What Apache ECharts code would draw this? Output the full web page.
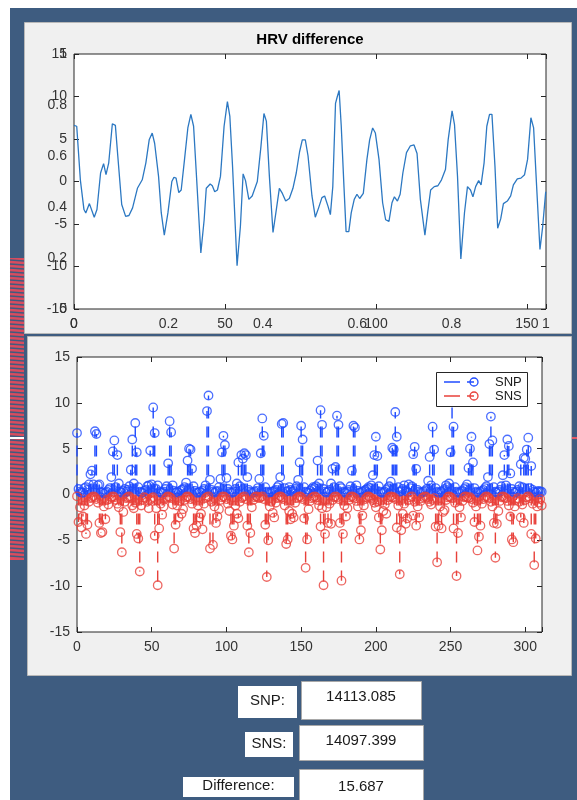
<!DOCTYPE html>
<html>
<head>
<meta charset="utf-8">
<title>HRV difference</title>
<script src="https://cdn.jsdelivr.net/npm/echarts/dist/echarts.min.js"></script>
<style>
  html, body { margin: 0; padding: 0; background: #ffffff; }
  #chart { width: 577px; height: 800px; }
</style>
</head>
<body>
<div id="chart"></div>
<script>
// HRV difference trace, [sample, value] vertices
const hrvDiff = [
  [0,6.6],[0.9,6.5],[2.1,0.2],[3.3,-3.3],[3.9,-3.7],[5.1,-2.6],[5.7,-2.5],[6.7,-4.2],[7.6,-3.3],[8.8,1.0],
  [9.8,2.1],[10.6,0.8],[11.5,2.2],[12.7,6.8],[13.7,6.6],[14.5,3.0],[15.8,-2.7],[17.1,-4.1],[18.2,-4.0],[19.4,-3.1],
  [21.0,-0.8],[22.6,0.2],[23.8,2.2],[24.9,4.9],[25.9,5.7],[26.7,4.5],[28.0,0.6],[28.9,-3.7],[29.9,-6.3],[31.1,-3.7],
  [32.4,0],[33.1,0.5],[33.8,0.4],[34.7,-1.3],[35.5,-1.0],[36.6,2.6],[37.7,6.3],[38.7,7.9],[39.6,6.5],[40.5,1.0],
  [42.0,-8.4],[43.1,-4.5],[43.8,-0.8],[45.1,-0.3],[45.8,-0.5],[46.6,-1.2],[47.5,-1.0],[48.5,0.6],[49.7,6.5],[50.8,9.4],
  [51.6,7.7],[52.5,1.8],[54.0,-9.9],[55.1,-5.3],[56.0,0.9],[56.8,0.1],[57.9,-2.1],[59.0,-1.7],[60.7,0],[61.9,4.1],
  [62.9,8.0],[63.7,7.1],[64.7,0.6],[65.9,-6.0],[67.0,-3.3],[68.0,-0.8],[69.0,-1.4],[70.1,-2.3],[71.3,-2.0],[72.5,-0.8],
  [73.6,1.0],[74.7,3.5],[75.6,4.9],[76.6,4.9],[77.5,3.0],[78.8,-1.7],[79.9,-4.2],[81.0,-3.1],[82.1,-1.9],[83.0,-1.7],
  [84.1,-2.9],[84.9,-3.9],[85.7,-0.6],[86.6,9.2],[87.2,10.0],[87.8,10.7],[88.5,6.5],[89.4,-0.6],[90.1,-5.9],[91.0,-5.9],
  [91.8,-3.7],[92.8,-2.1],[93.7,-1.5],[94.6,-2.0],[95.8,-1.4],[97.0,2.6],[97.9,4.9],[98.9,6.3],[99.8,5.7],[101.0,2.6],
  [102.2,-2.5],[103.2,-4.5],[104.3,-4.7],[105.3,-2.5],[106.1,-1.8],[107.1,-2.3],[108.0,-1.5],[108.9,1.0],[110.1,3.4],[111.4,4.2],
  [112.6,4.3],[113.6,3.3],[114.7,-2.1],[116.2,-6.3],[117.1,-3.7],[118.1,-1.0],[119.3,-0.6],[120.5,-0.5],[121.7,0.2],[123.0,1.4],
  [123.9,4.9],[125.2,8.3],[126.0,6.7],[127.0,0.6],[128.1,-9.1],[129.3,-3.7],[130.3,-0.6],[131.3,-1.0],[132.1,-1.8],[133.0,-0.6],
  [134.0,0.1],[134.8,-0.4],[135.8,2.2],[136.7,6.5],[137.6,7.9],[138.4,7.9],[139.4,1.8],[140.3,-5.5],[141.3,-4.4],[142.2,-2.6],
  [143.5,-2.3],[144.6,-1.7],[145.5,-0.4],[146.8,0.3],[148.0,0.4],[149.2,0.8],[150.2,2.6],[151.3,7.5],[152.2,6.3],[153.2,-0.6],
  [154.3,-8.0],[155.2,-5.3],[156.2,-1.2]
];

// SNP stem values, one per sample index 0..311
const snpValues = [
  6.7, 0.6, 0.3, 0.2, 0.2, 0.7, 0.8, 0.5, 1.1, 2.2,
  2.6, 1.1, 6.9, 6.6, 1.0, 1.1, 0.3, 0.2, 0.1, 0.2,
  0.3, 0.5, 0.7, 1.9, 4.7, 5.9, 0.8, 4.3, 1.2, 0.3,
  0.2, 0.4, 0.6, 0.3, 0.5, 0.9, 2.7, 6.0, 1.2, 7.8,
  4.6, 0.8, 0.3, 0.2, 0.2, 0.4, 0.5, 0.9, 1.0, 4.8,
  1.1, 9.5, 6.7, 0.6, 1.0, 0.3, 0.2, 0.2, 0.3, 0.6,
  0.9, 3.4, 8.0, 6.8, 1.0, 0.4, 0.2, 0.3, 0.2, 0.4,
  0.5, 0.6, 0.8, 1.3, 3.7, 5.0, 4.9, 2.8, 0.9, 0.4,
  0.2, 0.2, 0.3, 0.2, 0.4, 0.6, 1.0, 9.1, 10.8, 1.6,
  0.5, 0.3, 0.2, 0.3, 0.4, 0.8, 1.7, 4.6, 6.4, 5.4,
  1.8, 0.6, 0.3, 0.2, 0.2, 0.3, 0.6, 1.2, 3.5, 0.9,
  4.3, 3.9, 4.5, 4.3, 1.9, 0.5, 0.3, 0.2, 0.2, 0.3,
  0.4, 0.7, 1.7, 4.5, 8.3, 6.4, 0.8, 0.3, 0.2, 0.2,
  0.3, 0.3, 0.4, 0.5, 0.8, 1.0, 1.9, 7.7, 7.8, 0.7,
  0.3, 0.4, 0.8, 0.5, 0.3, 0.4, 0.6, 0.9, 1.6, 3.5,
  7.5, 6.0, 0.8, 0.3, 0.2, 0.2, 0.4, 0.6, 0.8, 0.7,
  0.9, 3.7, 1.2, 9.2, 7.6, 0.6, 0.3, 0.2, 0.3, 0.5,
  1.2, 2.8, 0.8, 3.0, 8.6, 7.6, 0.9, 0.7, 0.3, 0.2,
  0.2, 0.3, 0.5, 0.9, 2.6, 7.5, 7.3, 1.0, 0.4, 0.2,
  0.2, 0.3, 0.4, 0.5, 0.6, 0.8, 0.7, 1.0, 2.1, 4.3,
  6.3, 4.2, 0.9, 0.3, 0.2, 0.2, 0.3, 0.5, 0.7, 0.9,
  1.4, 5.1, 4.9, 9.0, 6.3, 0.8, 0.3, 0.4, 0.6, 1.0,
  0.4, 0.3, 1.1, 0.7, 0.9, 4.4, 5.2, 2.8, 0.5, 0.3,
  0.2, 0.2, 0.3, 0.4, 0.6, 1.5, 4.1, 1.0, 7.4, 4.9,
  0.7, 0.3, 0.2, 0.2, 0.3, 0.4, 0.6, 1.0, 0.8, 1.2,
  4.6, 11.0, 7.4, 0.8, 0.3, 0.2, 0.2, 0.3, 0.4, 0.6,
  0.8, 1.1, 2.9, 5.0, 6.3, 3.5, 0.7, 0.3, 0.2, 0.2,
  0.3, 0.4, 0.5, 0.7, 0.9, 1.9, 5.5, 8.5, 5.9, 0.8,
  0.3, 0.2, 0.3, 0.5, 0.9, 2.1, 4.3, 1.0, 6.0, 5.3,
  2.3, 0.6, 0.3, 0.2, 0.3, 0.5, 0.9, 3.3, 0.8, 4.0,
  3.9, 4.9, 6.2, 0.7, 3.1, 0.5, 0.3, 0.2, 0.3, 0.4,
  0.3, 0.3
];

// SNS stem values, one per sample index 0..311
const snsValues = [
  -0.2, -3.0, -1.4, -3.6, -2.4, -1.2, -4.3, -3.3, -0.8, -0.4,
  -0.3, -0.2, -0.3, -0.5, -0.9, -3.1, -4.2, -4.1, -1.3, -2.7,
  -0.6, -1.1, -0.5, -0.3, -0.2, -0.3, -0.6, -1.0, -1.4, -4.1,
  -6.3, -1.9, -0.8, -0.4, -0.3, -0.2, -0.4, -1.2, -1.5, -0.9,
  -4.3, -4.8, -8.4, -1.2, -0.6, -0.3, -0.4, -0.8, -1.5, -0.6,
  -0.4, -0.3, -4.5, -1.5, -9.9, -3.7, -1.0, -2.2, -1.3, -0.5,
  -0.3, -0.2, -0.3, -0.4, -1.1, -5.9, -3.3, -1.2, -2.5, -0.7,
  -2.1, -1.6, -0.6, -0.3, -0.2, -0.3, -0.5, -1.0, -3.7, -4.2,
  -3.4, -1.2, -2.5, -2.1, -3.8, -1.0, -0.4, -0.3, -0.2, -5.9,
  -0.8, -5.5, -1.3, -3.1, -2.4, -1.6, -0.6, -0.3, -0.2, -0.3,
  -0.5, -1.0, -1.8, -4.5, -4.9, -3.4, -1.2, -2.1, -2.6, -0.8,
  -0.4, -0.3, -0.2, -0.5, -3.4, -6.3, -4.2, -1.4, -0.6, -0.3,
  -0.2, -0.3, -0.4, -0.3, -0.2, -0.5, -3.3, -9.0, -5.0, -1.3,
  -0.8, -2.0, -2.5, -0.9, -0.4, -0.3, -0.2, -0.3, -0.5, -1.2,
  -5.4, -4.9, -1.8, -2.7, -2.1, -2.5, -0.9, -0.4, -0.3, -0.2,
  -0.3, -0.5, -2.6, -8.0, -4.9, -1.6, -0.7, -0.4, -0.3, -0.2,
  -0.3, -0.6, -1.2, -3.5, -1.5, -9.9, -4.3, -1.4, -3.1, -1.0,
  -3.2, -0.6, -0.3, -0.2, -0.3, -0.5, -3.1, -9.4, -4.3, -1.2,
  -2.4, -1.5, -0.6, -0.3, -0.2, -0.3, -0.4, -0.7, -1.3, -4.9,
  -3.9, -2.3, -1.2, -0.5, -0.3, -0.2, -0.3, -0.4, -0.6, -0.9,
  -1.4, -0.8, -2.5, -6.0, -3.9, -1.8, -1.1, -2.1, -0.6, -0.3,
  -0.2, -0.3, -0.3, -0.5, -3.6, -1.2, -8.7, -3.9, -2.1, -1.0,
  -3.2, -2.6, -0.6, -0.3, -0.2, -2.3, -0.8, -3.4, -1.3, -2.5,
  -0.7, -0.4, -0.3, -0.2, -0.3, -0.5, -0.8, -1.1, -0.6, -0.4,
  -3.5, -7.4, -3.4, -1.3, -3.7, -1.9, -1.7, -0.6, -0.3, -0.2,
  -0.3, -0.4, -3.7, -0.9, -8.9, -4.2, -1.4, -2.5, -0.7, -0.3,
  -0.2, -0.3, -0.4, -0.3, -0.5, -0.9, -3.0, -1.3, -6.1, -4.6,
  -3.4, -1.0, -0.5, -0.3, -0.2, -0.3, -0.4, -0.8, -1.3, -3.1,
  -6.9, -3.2, -1.8, -0.7, -0.3, -0.2, -0.3, -0.4, -0.7, -1.2,
  -2.4, -4.9, -5.2, -1.3, -0.6, -0.4, -0.8, -2.5, -1.1, -3.1,
  -0.6, -0.3, -0.2, -0.4, -4.3, -1.0, -7.7, -4.8, -1.3, -0.9,
  -0.5, -1.2
];

// Axis ticks
const hrvXTicks = [0, 50, 100, 150];
const stemXTicks = [0, 50, 100, 150, 200, 250, 300];
const valueYTicks = [-15, -10, -5, 0, 5, 10, 15];
const unitTicks = [0, 0.2, 0.4, 0.6, 0.8, 1];

// Totals shown under the plots
const totals = [
  { label: 'SNP:', value: '14113.085' },
  { label: 'SNS:', value: '14097.399' },
  { label: 'Difference:', value: '15.687' }
];

const FONT = '"Liberation Sans", Arial, Helvetica, sans-serif';
const AXIS_COLOR = '#262626';
const LABEL_COLOR = '#333333';
const SNP_COLOR = '#1f4bff';
const SNS_COLOR = '#e8403a';

const snpData = snpValues.map((v, i) => [i, v]);
const snsData = snsValues.map((v, i) => [i, v]);

function tickLabel(list) {
  return function (v) {
    const r = Math.round(v * 1000) / 1000;
    return list.indexOf(r) >= 0 ? String(r) : '';
  };
}

function mainAxis(kind, gridIndex, min, max, interval, position, ticks) {
  return {
    type: 'value', gridIndex, min, max, interval, position,
    axisLine: { show: false, onZero: false },
    axisTick: { show: true, inside: true, length: 5, lineStyle: { color: AXIS_COLOR, width: 1 } },
    axisLabel: ticks ? {
      show: true, color: LABEL_COLOR, fontSize: 14, fontFamily: FONT,
      margin: kind === 'x' ? 8 : 7, formatter: tickLabel(ticks)
    } : { show: false },
    splitLine: { show: false }
  };
}

function overlayAxis(kind, gridIndex, position) {
  return {
    type: 'value', gridIndex, min: 0, max: 1, interval: 0.2, position,
    axisLine: { show: false, onZero: false }, axisTick: { show: false }, splitLine: { show: false },
    axisLabel: {
      show: true, color: LABEL_COLOR, fontSize: 14, fontFamily: FONT,
      margin: kind === 'x' ? 8 : 7, formatter: tickLabel(unitTicks)
    }
  };
}

function stemRenderer(color) {
  return function (params, api) {
    const x = api.value(0);
    const v = api.value(1);
    const a = api.coord([x, 0]);
    const b = api.coord([x, v]);
    return {
      type: 'line',
      shape: { x1: a[0], y1: a[1], x2: b[0], y2: b[1] },
      style: { stroke: color, lineWidth: 1.4, lineDash: [11, 8] },
      silent: true
    };
  };
}

// Striped strip along the left edge of the window
const stripes = [];
for (let y = 260; y < 560; y += 4) {
  stripes.push({
    type: 'line', z: -90,
    shape: { x1: 10, y1: y, x2: 24, y2: y + 1 },
    style: { stroke: '#3e5c80', lineWidth: 1.4 }
  });
}

const totalBoxes = [];
const labelBoxes = [
  { x: 238, y: 686, w: 59, h: 32 },
  { x: 245, y: 732, w: 48, h: 25 },
  { x: 183, y: 777, w: 111, h: 20 }
];
const valueBoxes = [
  { x: 301, y: 681, w: 120, h: 38 },
  { x: 299, y: 725, w: 124, h: 35 },
  { x: 299, y: 769, w: 124, h: 34 }
];
const textY = [[701, 697], [744, 741], [786, 787]];
totals.forEach((t, i) => {
  const lb = labelBoxes[i], vb = valueBoxes[i];
  totalBoxes.push(
    { type: 'rect', z: 50, shape: { x: lb.x, y: lb.y, width: lb.w, height: lb.h }, style: { fill: '#ffffff' } },
    { type: 'text', z: 51, x: lb.x + lb.w / 2, y: textY[i][0],
      style: { text: t.label, fill: '#1a1a1a', font: '15px ' + FONT, textAlign: 'center', textVerticalAlign: 'middle' } },
    { type: 'rect', z: 50, shape: { x: vb.x + 0.5, y: vb.y + 0.5, width: vb.w, height: vb.h },
      style: { fill: '#ffffff', stroke: '#a8a8a8', lineWidth: 1 } },
    { type: 'text', z: 51, x: vb.x + vb.w / 2, y: textY[i][1],
      style: { text: t.value, fill: '#1a1a1a', font: '15px ' + FONT, textAlign: 'center', textVerticalAlign: 'middle' } }
  );
});

function legendRow(y, color, name) {
  return [
    { type: 'line', z: 61, shape: { x1: 444, y1: y, x2: 460, y2: y }, style: { stroke: color, lineWidth: 1.5 } },
    { type: 'line', z: 61, shape: { x1: 467, y1: y, x2: 474, y2: y }, style: { stroke: color, lineWidth: 1.5 } },
    { type: 'circle', z: 61, shape: { cx: 474, cy: y, r: 4 }, style: { fill: 'transparent', stroke: color, lineWidth: 1.3 } },
    { type: 'text', z: 61, x: 495, y: y, style: { text: name, fill: '#1a1a1a', font: '13px ' + FONT, textVerticalAlign: 'middle' } }
  ];
}

const chart = echarts.init(document.getElementById('chart'), null, { renderer: 'canvas' });

chart.setOption({
  backgroundColor: '#ffffff',
  animation: false,
  graphic: [
    { type: 'rect', z: -100, shape: { x: 10, y: 8, width: 567, height: 792 }, style: { fill: '#3e5c80' } },
    { type: 'rect', z: -95, shape: { x: 10, y: 258, width: 14, height: 302 }, style: { fill: '#d84c5e' } },
    ...stripes,
    { type: 'rect', z: -80, shape: { x: 0, y: 437, width: 24, height: 2 }, style: { fill: '#ffffff' } },
    { type: 'rect', z: -80, shape: { x: 572, y: 437, width: 5, height: 2 }, style: { fill: '#e05a66' } },
    { type: 'rect', z: -70, shape: { x: 24.5, y: 22.5, width: 547, height: 311 },
      style: { fill: '#f0f0f0', stroke: '#b8b8b8', lineWidth: 1 } },
    { type: 'rect', z: -70, shape: { x: 27.5, y: 336.5, width: 544, height: 339 },
      style: { fill: '#f0f0f0', stroke: '#b8b8b8', lineWidth: 1 } },
    { type: 'text', z: 40, x: 310, y: 40,
      style: { text: 'HRV difference', fill: '#000000', font: 'bold 15px ' + FONT, textAlign: 'center', textVerticalAlign: 'middle' } },
    { type: 'rect', z: 60, shape: { x: 436.5, y: 372.5, width: 91, height: 34 },
      style: { fill: '#ffffff', stroke: '#262626', lineWidth: 1 } },
    ...legendRow(382, SNP_COLOR, 'SNP'),
    ...legendRow(396, SNS_COLOR, 'SNS'),
    ...totalBoxes
  ],
  grid: [
    { left: 74, top: 54, width: 472, height: 255, show: true, backgroundColor: '#ffffff',
      borderColor: AXIS_COLOR, borderWidth: 1 },
    { left: 77, top: 357, width: 465, height: 275, show: true, backgroundColor: '#ffffff',
      borderColor: AXIS_COLOR, borderWidth: 1 }
  ],
  xAxis: [
    mainAxis('x', 0, 0, 156.3, 50, 'bottom', hrvXTicks),
    overlayAxis('x', 0, 'bottom'),
    mainAxis('x', 0, 0, 156.3, 50, 'top', null),
    mainAxis('x', 1, 0, 311.2, 50, 'bottom', stemXTicks),
    mainAxis('x', 1, 0, 311.2, 50, 'top', null)
  ],
  yAxis: [
    mainAxis('y', 0, -15, 15, 5, 'left', valueYTicks),
    overlayAxis('y', 0, 'left'),
    mainAxis('y', 0, -15, 15, 5, 'right', null),
    mainAxis('y', 1, -15, 15, 5, 'left', valueYTicks),
    mainAxis('y', 1, -15, 15, 5, 'right', null)
  ],
  series: [
    {
      name: 'HRV difference', type: 'line', xAxisIndex: 0, yAxisIndex: 0,
      data: hrvDiff, showSymbol: false, silent: true,
      lineStyle: { color: '#2c78c2', width: 1.3 }
    },
    {
      name: 'SNP stems', type: 'custom', xAxisIndex: 3, yAxisIndex: 3,
      data: snpData, renderItem: stemRenderer(SNP_COLOR), encode: { x: 0, y: 1 }, silent: true
    },
    {
      name: 'SNP', type: 'scatter', xAxisIndex: 3, yAxisIndex: 3, data: snpData,
      symbol: 'circle', symbolSize: 8.5, silent: true,
      itemStyle: { color: 'rgba(0,0,0,0)', borderColor: SNP_COLOR, borderWidth: 1.3 }
    },
    {
      name: 'SNS stems', type: 'custom', xAxisIndex: 3, yAxisIndex: 3,
      data: snsData, renderItem: stemRenderer(SNS_COLOR), encode: { x: 0, y: 1 }, silent: true
    },
    {
      name: 'SNS', type: 'scatter', xAxisIndex: 3, yAxisIndex: 3, data: snsData,
      symbol: 'circle', symbolSize: 8.5, silent: true,
      itemStyle: { color: 'rgba(0,0,0,0)', borderColor: SNS_COLOR, borderWidth: 1.3 }
    }
  ]
});
</script>
</body>
</html>
